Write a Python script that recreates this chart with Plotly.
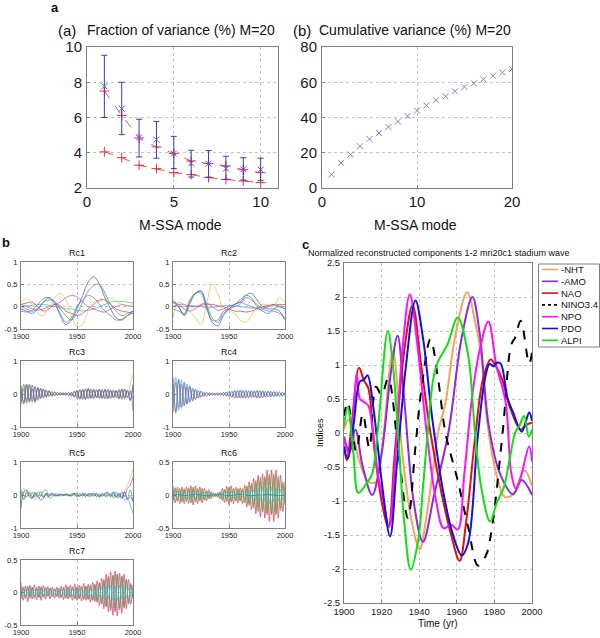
import plotly.graph_objects as go

W, H = 600, 638
FONT = "Liberation Sans, Arial, sans-serif"
AXC = "#808080"

# ---------------- panel a data ----------------
MODES_A = [1, 2, 3, 4, 5, 6, 7, 8, 9, 10]
FRAC_DATA = [7.77, 6.5, 4.86, 4.74, 3.95, 3.4, 3.38, 3.1, 3.06, 3.04]
FRAC_HI = [9.53, 8.0, 5.9, 5.78, 4.93, 4.14, 4.12, 3.8, 3.72, 3.69]
FRAC_LO = [6.0, 5.03, 3.76, 3.69, 3.1, 2.62, 2.62, 2.5, 2.45, 2.42]
RED_UP = [7.5, 6.12, 4.84, 4.33, 3.95, 3.53, 3.38, 3.25, 3.04, 2.87]
RED_DN = [4.05, 3.72, 3.29, 3.1, 2.87, 2.76, 2.59, 2.48, 2.4, 2.31]

# ---------------- panel b (cumulative) ----------------
MODES_B = list(range(1, 21))
CUMVAR = [7.6, 14.2, 19.0, 23.7, 27.8, 31.2, 34.6, 37.7, 40.9, 43.9,
          46.9, 49.8, 52.0, 54.9, 57.3, 59.4, 61.7, 63.7, 65.6, 67.5]

# ---------------- Rc panels ----------------
YR5 = [1900 + 5 * i for i in range(21)]
YR25 = [1900 + 2.5 * i for i in range(41)]
YR2 = [1900 + 2 * i for i in range(51)]

RC1_BLUE = [-0.05, -0.1, -0.15, -0.05, 0.1, 0.2, 0.1, -0.2, -0.4, -0.3, -0.05, 0.25, 0.55, 0.67, 0.5, 0.2, -0.05, -0.25, -0.3, -0.2, -0.1]
RC1_GREEN = [0.0, -0.05, -0.1, -0.05, 0.1, 0.15, 0.12, -0.05, -0.2, -0.3, -0.15, 0.1, 0.35, 0.48, 0.5, 0.3, 0.05, -0.1, -0.2, -0.15, -0.1]
RC1_YEL = [0.1, 0.18, 0.05, -0.15, -0.2, 0.0, 0.2, 0.3, 0.15, -0.2, -0.45, -0.4, -0.1, 0.1, 0.12, 0.18, 0.2, 0.12, 0.05, 0.0, 0.05]
RC1_RED = [0.05, 0.08, 0.1, 0.0, -0.1, -0.05, 0.05, 0.02, -0.1, -0.15, -0.2, -0.15, -0.05, 0.05, 0.15, 0.15, 0.05, -0.05, -0.1, -0.12, -0.15]
RC1_SLATE = [-0.1, -0.12, -0.08, 0.05, 0.18, 0.2, 0.05, -0.15, -0.35, -0.25, 0.0, 0.15, 0.25, 0.2, 0.05, -0.1, -0.2, -0.3, -0.28, -0.2, -0.15]
RC1_CYAN = [0.0, 0.02, 0.03, 0.05, 0.05, 0.03, 0.0, -0.02, -0.05, -0.05, -0.08, -0.1, -0.08, -0.05, 0.0, 0.05, 0.1, 0.12, 0.12, 0.1, 0.08]
RC1_MAG = [0.05, 0.0, -0.05, -0.08, -0.05, 0.0, 0.05, 0.1, 0.2, 0.25, 0.22, 0.1, 0.0, -0.05, -0.1, -0.12, -0.05, 0.0, 0.05, 0.02, 0.0]

RC2_YEL = [-0.25, 0.1, 0.05, -0.1, -0.25, -0.4, 0.05, 0.5, 0.3, -0.05, -0.1, -0.15, -0.3, -0.35, -0.2, 0.0, 0.05, 0.05, 0.0, 0.2, 0.1]
RC2_BLUE = [0.1, 0.0, -0.2, 0.1, 0.3, 0.35, 0.0, -0.35, -0.43, -0.2, -0.05, 0.05, 0.1, 0.25, 0.3, 0.15, 0.0, -0.05, -0.05, -0.1, -0.3]
RC2_GREEN = [0.15, 0.0, -0.18, 0.05, 0.3, 0.35, 0.05, -0.25, -0.35, -0.15, -0.05, 0.05, 0.15, 0.25, 0.2, 0.0, -0.1, -0.15, -0.05, 0.0, -0.05]
RC2_SLATE = [-0.05, -0.1, -0.15, 0.15, 0.3, 0.3, -0.05, -0.3, -0.3, -0.1, -0.05, 0.0, 0.05, 0.2, 0.15, 0.05, -0.05, -0.1, -0.1, -0.15, -0.25]
RC2_RED = [0.0, 0.05, 0.05, 0.0, 0.0, 0.03, 0.05, 0.05, 0.02, 0.0, -0.05, -0.1, -0.1, -0.12, -0.1, -0.05, 0.0, 0.02, 0.05, 0.05, 0.05]
RC2_CYAN = [0.0, 0.0, 0.01, 0.02, 0.02, 0.0, -0.02, -0.02, 0.0, 0.02, 0.03, 0.02, 0.0, -0.02, -0.03, -0.02, 0.0, 0.02, 0.03, 0.02, 0.0]
RC2_MAG = [0.1, 0.05, -0.05, -0.1, -0.05, 0.05, 0.08, 0.0, -0.08, -0.05, 0.0, 0.05, 0.1, 0.05, 0.0, -0.05, -0.05, 0.0, 0.05, 0.0, -0.05]

# values below in hundredths
RC3_BLUE = [25,-30,28,-25,27,-22,20,-15,14,-10,9,-7,5,-4,3,-3,4,-4,5,-8,12,-15,15,-17,16,-14,13,-12,13,-14,15,-13,12,-10,11,-13,16,-12,10,-20,25]
RC3_GREEN = [-28,30,-26,28,-24,24,-18,17,-13,12,-8,7,-6,5,-4,3,-3,5,-6,9,-13,14,-16,16,-15,15,-14,13,-12,14,-15,14,-13,11,-12,14,-15,13,-11,10,-50]
RC3_RED = [10,-25,30,-20,15,-25,18,-10,15,-8,10,-5,6,-3,4,-2,3,-5,4,-9,10,-16,12,-15,17,-12,14,-10,15,-12,13,-15,10,-12,10,-15,13,-14,12,-18,30]
RC3_YEL = [-15,20,-30,25,-20,18,-22,12,-10,13,-6,8,-4,5,-3,4,-2,3,-7,6,-10,12,-18,14,-12,16,-11,14,-10,12,-13,12,-15,9,-10,12,-18,10,-13,30,60]
RC3_MAG = [-30,15,-20,30,-15,20,-12,18,-8,10,-5,6,-3,4,-2,3,-3,4,-3,7,-8,12,-10,14,-13,11,-12,12,-14,10,-12,14,-11,12,-9,10,-12,15,-8,5,-15]

RC4_BLUE = [50,-55,45,-40,35,-30,25,-20,15,-12,9,-7,5,-4,3,-3,3,-4,5,-6,8,-10,11,-12,12,-12,11,-11,10,-10,11,-12,10,-9,9,-8,8,-7,6,-6,5]
RC4_GREEN = [-45,50,-50,42,-33,30,-24,19,-16,11,-9,6,-5,4,-3,2,-3,3,-5,5,-7,9,-11,11,-12,11,-12,10,-9,10,-10,11,-10,8,-9,7,-8,6,-6,5,-4]
RC4_YEL = [30,-60,40,-45,25,-32,20,-22,12,-13,7,-8,4,-5,2,-3,2,-4,4,-6,6,-10,9,-12,10,-13,9,-12,8,-11,9,-12,8,-10,7,-9,6,-8,5,-6,3]
RC4_RED = [-55,35,-42,30,-36,22,-26,15,-17,10,-10,5,-6,3,-4,2,-3,3,-4,6,-8,8,-12,10,-13,10,-12,9,-11,9,-12,10,-11,8,-9,8,-7,7,-6,5,-5]

RC5_BLUE = [-40,10,15,-5,-10,5,0,-15,-10,5,0,5,0,-3,2,0,3,-2,0,5,3,-3,5,-5,3,0,5,-5,3,-3,5,8,-2,10,-5,5,-10,10,-15,-5,-20]
RC5_GREEN = [10,-15,10,5,-10,8,-5,10,-8,3,-5,5,-3,0,3,-2,0,2,-3,3,-5,5,-3,3,-2,5,-3,2,-5,5,-3,2,-5,5,-8,5,-10,8,-10,15,-20]
RC5_YEL = [5,20,-10,8,5,-15,10,10,-5,-10,5,-3,2,3,-2,3,-1,2,0,-2,3,-3,2,0,5,-5,3,0,-5,3,5,-5,8,-10,5,-5,0,15,30,50,80]
RC5_CYAN = [0,-10,5,-5,8,5,-10,-5,12,15,-10,-8,3,2,-3,0,2,-3,5,2,-5,-3,5,3,-5,-3,5,3,-8,5,-5,-3,3,-8,10,-5,5,-15,-10,-30,-55]
RC5_MAG = [15,0,-5,10,-5,-5,8,0,-5,5,-5,3,0,-2,2,-2,3,0,-3,3,0,-2,3,-3,2,3,-3,5,-3,-3,3,5,-5,5,-3,-8,10,-5,20,30,55]

RC6_RED = [14,-12,12,-13,12,-13,12,-13,14,-15,14,-13,12,-12,10,-9,8,-6,4,-3,4,-6,10,-12,13,-15,14,-13,12,-12,11,-13,15,-18,20,-22,25,-28,30,-33,32,-35,38,-40,38,-40,38,-35,30,-25,20]
RC6_GREEN = [-10,11,-9,10,-11,9,-10,11,-12,12,-11,10,-9,10,-8,7,-6,5,-3,2,-3,5,-8,9,-10,12,-11,10,-9,10,-9,10,-12,14,-16,18,-20,22,-25,27,-26,28,-30,32,-30,32,-30,28,-24,20,-15]
RC6_CYAN = [5,-3,6,-2,4,-5,3,-4,6,-3,5,-4,2,-5,3,-2,4,-3,2,-1,2,-2,3,-4,5,-3,6,-4,3,-5,4,-3,5,-6,7,-5,8,-9,10,-8,12,-10,11,-13,12,-10,11,-9,8,-7,6]
RC6_MAG = [-6,8,-7,5,-8,6,-7,8,-6,9,-8,7,-6,5,-7,4,-5,3,-2,1,-2,3,-5,6,-7,6,-8,7,-6,5,-7,8,-9,10,-12,14,-15,17,-18,20,-22,24,-25,27,-28,26,-25,22,-20,15,-10]
RC6_YEL = [-9,7,-10,9,-7,10,-8,9,-10,8,-9,9,-8,7,-6,6,-4,3,-2,2,-3,4,-7,8,-9,10,-9,8,-10,9,-8,9,-11,12,-13,15,-17,19,-20,23,-22,25,-27,26,-25,27,-24,22,-19,16,-12]
RC6_TEAL = [0.0, 0.01, -0.01, 0.0, 0.01, 0.0, -0.01, 0.0, 0.01, 0.0, -0.01, 0.0, 0.01, 0.0, -0.01, 0.0, 0.0, 0.01, 0.0, -0.01, 0.0]

RC7_RED = [15,-12,10,-14,11,-10,12,-11,10,-12,11,-10,9,-10,8,-9,8,-9,10,-11,12,-10,11,-12,13,-12,11,-13,14,-12,13,-15,16,-14,18,-20,22,-25,28,-30,32,-35,33,-36,30,-32,28,-25,20,-18,12]
RC7_GREEN = [-10,9,-8,10,-9,8,-9,8,-7,9,-8,7,-6,7,-5,6,-6,7,-8,8,-9,7,-8,9,-10,9,-8,10,-11,9,-10,12,-12,11,-14,15,-17,19,-21,23,-25,27,-26,28,-24,25,-22,20,-16,14,-10]
RC7_CYAN = [4,-5,3,-4,5,-3,4,-3,5,-4,3,-4,2,-3,3,-2,3,-3,4,-3,4,-4,3,-5,4,-3,5,-4,3,-5,4,-6,5,-6,7,-6,8,-9,10,-9,11,-12,10,-12,11,-10,9,-8,7,-6,5]
RC7_MAG = [-8,6,-9,7,-6,8,-7,6,-8,7,-6,8,-5,6,-7,5,-6,5,-7,6,-8,9,-7,8,-9,7,-10,8,-9,10,-11,9,-12,13,-15,14,-18,20,-22,25,-28,26,-30,28,-27,25,-24,20,-18,12,-8]

# ---------------- panel c ----------------
NHT_YR = [1900, 1902.5, 1908, 1913, 1917, 1920, 1926, 1931, 1936, 1940.3, 1944, 1948, 1950, 1954, 1959, 1965.5, 1970, 1973, 1976, 1981, 1985.5, 1990, 1996, 2000]
NHT = [0.05, 0.2, -0.4, -0.72, -0.72, -0.3, 1.2, -0.3, -1.3, -1.71, -1.2, -0.4, 0.0, 0.45, 1.4, 2.07, 1.6, 1.15, 0.2, -0.6, -0.94, -0.9, -0.55, -0.78]
AMO_YR = [1900, 1903, 1906, 1910, 1915, 1920, 1925, 1928.5, 1932, 1937, 1942, 1948, 1955.5, 1962.5, 1968.3, 1972, 1977, 1983, 1990, 1994.5, 2000]
AMO = [-0.05, -0.28, 0.05, -0.5, -0.91, -0.3, 0.9, 1.43, 0.5, -1.0, -1.6, -0.9, 0.0, 1.39, 2.0, 1.5, 0.1, -0.6, -0.9, -0.69, -0.91]
NAO_YR = [1900, 1901.5, 1904, 1908, 1910.5, 1913, 1916, 1920, 1923.6, 1927, 1932, 1936.5, 1941, 1946, 1952, 1957, 1961.5, 1965, 1970, 1974, 1978, 1981, 1984, 1988, 1994, 1997, 2000]
NAO = [-0.2, -0.4, 0.1, 0.96, 0.78, 0.65, -0.2, -1.0, -1.38, -0.3, 1.2, 1.88, 1.0, 0.0, -0.9, -1.5, -1.88, -1.3, 0.0, 0.8, 1.08, 0.97, 0.8, 0.4, 0.05, 0.12, 0.15]
NINO_YR = [1900, 1902, 1906.5, 1910, 1913.5, 1917, 1920, 1923.5, 1929, 1934, 1938, 1941, 1946, 1950, 1954, 1960.5, 1966, 1971.3, 1975.5, 1978.5, 1984.5, 1989, 1991, 1994, 1998.5, 2000]
NINO = [0.25, 0.45, -0.27, 0.28, -0.22, 0.68, 0.56, 0.8, -0.3, -1.25, -0.2, 0.6, 1.38, 0.8, 0.0, -0.7, -1.38, -1.95, -1.8, -1.43, 0.04, 1.3, 1.4, 1.65, 1.02, 1.18]
NPO_YR = [1900, 1902.5, 1905, 1906.8, 1908.5, 1911, 1913, 1915.5, 1918, 1921, 1924, 1927, 1931, 1935, 1939, 1944, 1949, 1953, 1957, 1960.5, 1964, 1968, 1972, 1976.8, 1981, 1986, 1989, 1991.5, 1994, 1998.5, 2000]
NPO = [-0.1, -0.3, 0.3, 0.88, 0.5, 0.45, 0.4, 0.0, -0.6, -1.0, -1.38, -0.5, 1.2, 2.04, 1.3, 0.0, -1.0, -1.4, -1.35, -1.42, -0.6, 0.5, 1.2, 1.64, 1.0, 0.45, -0.6, -0.82, -0.65, -0.2, -0.42]
PDO_YR = [1900, 1902, 1905, 1908.5, 1910.5, 1912.5, 1915.5, 1920, 1924.5, 1928, 1933, 1938, 1942, 1947, 1953, 1958, 1962.6, 1966, 1971, 1975, 1977.5, 1979.5, 1981, 1983.3, 1987, 1990, 1994.5, 1998.5, 2000]
PDO = [-0.2, -0.38, 0.1, 0.76, 0.78, 0.85, 0.4, -0.7, -1.52, -0.5, 1.0, 1.95, 1.4, 0.2, -0.9, -1.5, -1.8, -1.62, -0.1, 0.8, 1.02, 0.98, 1.03, 1.02, 0.51, 0.3, 0.02, 0.3, 0.18]
ALPI_YR = [1900, 1902, 1905, 1907.6, 1912, 1915, 1918, 1923.3, 1926, 1929, 1932, 1935.5, 1939.5, 1942, 1944.5, 1947.5, 1950, 1955, 1960.5, 1966, 1969.7, 1973, 1977.7, 1981.2, 1985, 1988, 1991, 1993.5, 1995.8, 1998.3, 2000]
ALPI = [0.1, 0.38, -0.3, -0.88, -0.74, -0.6, 0.05, 1.5, 1.0, -0.1, -1.3, -2.01, -1.57, -0.8, 0.0, 0.8, 1.05, 1.3, 1.7, 1.15, 0.0, -0.8, -1.3, -1.03, -0.8, -0.4, 0.0, 0.12, 0.25, -0.05, 0.05]

LEGEND_NAMES = ["-NHT", "-AMO", "NAO", "NINO3.4", "NPO", "PDO", "ALPI"]

# ---------------- styling ----------------
C_BLUE, C_GREEN, C_RED = "#5060e6", "#4ca64c", "#e6406a"
C_CYAN, C_MAG, C_YEL, C_SLATE = "#40c0c4", "#c455c4", "#d8d050", "#7c7cbc"
C_TEAL = "#2a9a9a"
C_COLORS = ["#f7a35c", "#8a2be2", "#e01010", "#000000", "#ff10ff", "#1010e0", "#10e010"]


def px(x):
    return x / W


def py(y):
    return 1 - y / H


def axis(dom, rng, vals, text=None, fs=8, anchor=None, standoff=None):
    d = dict(domain=dom, range=rng, tickvals=vals, showline=True, mirror=True,
             linecolor=AXC, linewidth=1, ticks="inside", ticklen=3, tickcolor=AXC,
             showgrid=True, gridcolor="#c4c4c4", griddash="dot", gridwidth=1,
             zeroline=False, automargin=False,
             tickfont=dict(size=fs, color="#1a1a1a", family=FONT), anchor=anchor)
    if text is not None:
        d["ticktext"] = text
    if standoff is not None:
        d["ticklabelstandoff"] = standoff
    return d


fig = go.Figure()
layout = {}


def add_axes(n, xdom_px, ydom_px, xr, yr, xv, yv, xt=None, yt=None, fs=8, sx=None, sy=None):
    xd = [px(xdom_px[0]), px(xdom_px[1])]
    yd = [py(ydom_px[1]), py(ydom_px[0])]
    sfx = "" if n == 1 else str(n)
    layout["xaxis" + sfx] = axis(xd, xr, xv, xt, fs, anchor="y" + sfx, standoff=sx)
    layout["yaxis" + sfx] = axis(yd, yr, yv, yt, fs, anchor="x" + sfx, standoff=sy)
    return ("x" + sfx, "y" + sfx)


# panel a
xa, ya = add_axes(1, (87, 278), (47, 188), [0, 11], [2, 10], [0, 5, 10], [2, 4, 6, 8, 10], fs=15, sx=0, sy=1)
fig.add_trace(go.Scatter(x=MODES_A, y=RED_DN, mode="lines+markers", xaxis=xa, yaxis=ya,
                         line=dict(color="#f05050", width=1, dash="dash"),
                         marker=dict(symbol="cross-thin", size=7, line=dict(color="#f03030", width=1))))
fig.add_trace(go.Scatter(x=MODES_A, y=RED_UP, mode="lines+markers", xaxis=xa, yaxis=ya,
                         line=dict(color="#f05050", width=1, dash="dash"),
                         marker=dict(symbol="cross-thin", size=7, line=dict(color="#f03030", width=1))))
fig.add_trace(go.Scatter(x=MODES_A, y=FRAC_DATA, mode="markers", xaxis=xa, yaxis=ya,
                         marker=dict(symbol="x-thin", size=6, line=dict(color="#5a5af0", width=1)),
                         error_y=dict(type="data", symmetric=False,
                                      array=[h - v for h, v in zip(FRAC_HI, FRAC_DATA)],
                                      arrayminus=[v - l for v, l in zip(FRAC_DATA, FRAC_LO)],
                                      color="#3838c8", thickness=1, width=3)))

# panel b cumulative
xb, yb = add_axes(2, (322, 512), (47, 188), [0, 20], [0, 80], [0, 10, 20], [0, 20, 40, 60, 80], fs=15, sx=0, sy=1)
fig.add_trace(go.Scatter(x=MODES_B, y=CUMVAR, mode="markers", xaxis=xb, yaxis=yb,
                         marker=dict(symbol="x-thin", size=6, line=dict(color="#8080e4", width=1))))

# Rc panels
RC_X = [(21, 133), (173, 285)]
rc_specs = [
    ("Rc1", RC_X[0], (262, 329), [-0.5, 1], [1, 0.5, 0, -0.5], ["1", "0.5", "0", "-0.5"], YR5, 1.0,
     [(RC1_CYAN, C_CYAN), (RC1_MAG, C_MAG), (RC1_RED, C_RED), (RC1_YEL, C_YEL), (RC1_SLATE, C_SLATE), (RC1_GREEN, C_GREEN), (RC1_BLUE, C_BLUE)]),
    ("Rc2", RC_X[1], (262, 329), [-0.5, 1], [1, 0.5, 0, -0.5], ["1", "0.5", "0", "-0.5"], YR5, 1.0,
     [(RC2_CYAN, C_CYAN), (RC2_MAG, C_MAG), (RC2_RED, C_RED), (RC2_YEL, C_YEL), (RC2_SLATE, C_SLATE), (RC2_GREEN, C_GREEN), (RC2_BLUE, C_BLUE)]),
    ("Rc3", RC_X[0], (361, 427), [-1, 1], [1, 0, -1], ["1", "0", "-1"], YR25, 0.01,
     [(RC3_MAG, C_MAG), (RC3_YEL, C_YEL), (RC3_RED, C_RED), (RC3_GREEN, C_GREEN), (RC3_BLUE, C_BLUE)]),
    ("Rc4", RC_X[1], (361, 427), [-1, 1], [1, 0, -1], ["1", "0", "-1"], YR25, 0.01,
     [(RC4_YEL, C_YEL), (RC4_RED, C_RED), (RC4_GREEN, C_CYAN), (RC4_BLUE, C_BLUE)]),
    ("Rc5", RC_X[0], (462, 528), [-1, 1], [1, 0, -1], ["1", "0", "-1"], YR25, 0.01,
     [(RC5_MAG, C_MAG), (RC5_YEL, C_YEL), (RC5_CYAN, C_CYAN), (RC5_GREEN, C_GREEN), (RC5_BLUE, C_BLUE)]),
    ("Rc6", RC_X[1], (462, 528), [-0.5, 0.5], [0.5, 0, -0.5], ["0.5", "0", "-0.5"], YR2, 0.01,
     [(RC6_MAG, C_MAG), (RC6_YEL, C_YEL), (RC6_RED, C_RED), (RC6_GREEN, C_GREEN), (RC6_CYAN, C_CYAN)]),
    ("Rc7", RC_X[0], (560, 625), [-0.5, 0.5], [0.5, 0, -0.5], ["0.5", "0", "-0.5"], YR2, 0.01,
     [(RC7_MAG, C_MAG), (RC7_RED, C_RED), (RC7_GREEN, C_GREEN), (RC7_CYAN, C_CYAN)]),
]

annotations = []


def ann(text, x, y, size, bold=False, angle=0, xanchor="center"):
    annotations.append(dict(text=("<b>%s</b>" % text) if bold else text, x=px(x), y=py(y),
                            xref="paper", yref="paper", showarrow=False, xanchor=xanchor,
                            yanchor="middle", textangle=angle,
                            font=dict(size=size, color="#111", family=FONT)))


for i, (name, xdom, ydom, yr, yv, yt, yrs, scale, lines) in enumerate(rc_specs):
    n = 3 + i
    xs, ys = add_axes(n, xdom, ydom, [1900, 2000], yr, [1900, 1950, 2000], yv,
                      ["1900", "1950", "2000"], yt, fs=7.5, sx=0, sy=1)
    for vals, col in lines:
        fig.add_trace(go.Scatter(x=yrs, y=[v * scale for v in vals], mode="lines",
                                 xaxis=xs, yaxis=ys, line=dict(color=col, width=0.8, shape="spline")))
    if name == "Rc6":
        fig.add_trace(go.Scatter(x=YR5, y=RC6_TEAL, mode="lines", xaxis=xs, yaxis=ys,
                                 line=dict(color=C_TEAL, width=0.9, shape="spline")))
    ann(name, (xdom[0] + xdom[1]) / 2, ydom[0] - 9, 9)

# panel c
xc, yc = add_axes(10, (344, 532), (263, 603), [1900, 2000], [-2.5, 2.5],
                  [1900, 1920, 1940, 1960, 1980, 2000],
                  [2.5, 2, 1.5, 1, 0.5, 0, -0.5, -1, -1.5, -2, -2.5],
                  ["1900", "1920", "1940", "1960", "1980", "2000"],
                  ["2.5", "2", "1.5", "1", "0.5", "0", "-0.5", "-1", "-1.5", "-2", "-2.5"], fs=9.5, sx=0, sy=1)
series_c = [(NHT_YR, NHT), (AMO_YR, AMO), (NAO_YR, NAO), (NINO_YR, NINO),
            (NPO_YR, NPO), (PDO_YR, PDO), (ALPI_YR, ALPI)]
for (xs_, vs_), col, nm in zip(series_c, C_COLORS, LEGEND_NAMES):
    fig.add_trace(go.Scatter(x=xs_, y=vs_, mode="lines", name=nm, xaxis=xc, yaxis=yc,
                             line=dict(color=col, width=2, shape="spline", smoothing=1.0,
                                       dash="dash" if nm == "NINO3.4" else "solid")))

# manual legend for panel c
shapes = [dict(type="rect", xref="paper", yref="paper", x0=px(538.5), x1=px(599.5), y0=py(347), y1=py(264),
               line=dict(color="#808080", width=1), fillcolor="white", layer="above")]
for k, (nm, col) in enumerate(zip(LEGEND_NAMES, C_COLORS)):
    yy = 269.5 + k * 11.8
    shapes.append(dict(type="line", xref="paper", yref="paper", x0=px(542), x1=px(558), y0=py(yy), y1=py(yy),
                       line=dict(color=col, width=1.6, dash="dot" if nm == "NINO3.4" else "solid")))
    ann(nm, 558.5, yy, 9.5, xanchor="left")

# texts
ann("a", 55, 7, 13, bold=True)
ann("(a)", 67, 31, 15)
ann("Fraction of variance (%) M=20", 181, 30, 14)
ann("(b)", 302, 31, 15)
ann("Cumulative variance (%) M=20", 415, 30, 14)
ann("M-SSA mode", 180, 225, 14)
ann("M-SSA mode", 415, 225, 14)
ann("b", 6, 242, 13, bold=True)
ann("c", 305, 244, 13, bold=True)
ann("Normalized reconstructed components 1-2 mri20c1 stadium wave", 439, 253, 9)
ann("Indices", 320, 433, 9, angle=-90)
ann("Time (yr)", 438, 623, 10)

fig.update_layout(**layout)
fig.update_layout(width=W, height=H, margin=dict(l=0, r=0, t=0, b=0, autoexpand=False), showlegend=False,
                  paper_bgcolor="white", plot_bgcolor="white", annotations=annotations,
                  shapes=shapes, font=dict(family=FONT), hovermode=False)
fig.write_html("out.html", config={"displayModeBar": False, "staticPlot": True},
               post_script="document.body.style.margin='0';document.body.style.padding='0';"
                           "document.documentElement.style.overflow='hidden';")
